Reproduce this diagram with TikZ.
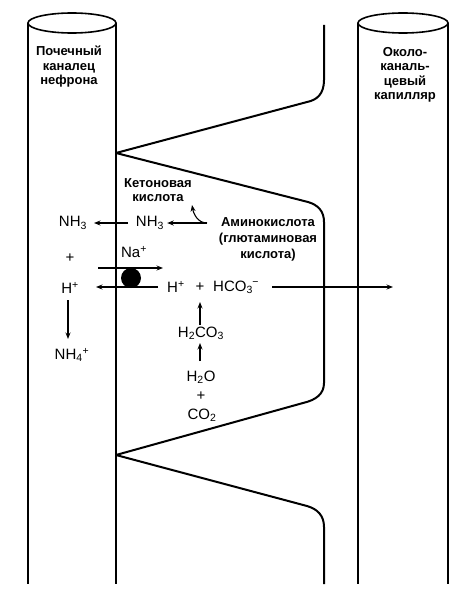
\documentclass[tikz,border=0pt]{standalone}
\usepackage{fontspec}
\setmainfont{Liberation Sans}
\usetikzlibrary{arrows.meta}
\begin{document}
\begin{tikzpicture}[x=1pt,y=-1pt,
  wall/.style={line width=2pt},
  rim/.style={line width=1.6pt},
  arr/.style={line width=1.1pt,-{Stealth[length=6.5pt,width=5pt]}},
  lbl/.style={font=\bfseries\fontsize{13}{14.5}\selectfont, inner sep=0pt, align=center},
  chem/.style={font=\fontsize{15}{17}\selectfont, inner sep=0pt, align=center},
  pumpdot/.style={circle, fill=black, inner sep=0pt, minimum size=20pt}]
\useasboundingbox (0,0) rectangle (464,594);
% cylinders
\draw[rim] (72,23) ellipse [x radius=44, y radius=10];
\draw[wall] (28,23) -- (28,584);
\draw[wall] (116,23) -- (116,584);
\draw[rim] (403,23) ellipse [x radius=45, y radius=10];
\draw[wall] (358,23) -- (358,584);
\draw[wall] (448,23) -- (448,584);
% cell boundary
\draw[wall, line join=round]
  (324,25) -- (324,80) .. controls (324,94) and (317,100) .. (307,102) -- (116,153)
  -- (308,202) .. controls (318,205) and (324,211) .. (324,222) -- (324,383)
  .. controls (324,394) and (316,400) .. (303,403) -- (116,455)
  -- (307,506) .. controls (317,509) and (324,515) .. (324,527) -- (324,584);
% labels
\node[lbl] (tubule) at (69,67) {Почечный\\каналец\\нефрона};
\node[lbl] (capil) at (405,75) {Около-\\каналь-\\цевый\\капилляр};
\node[lbl] (keto) at (158,190) {Кетоновая\\кислота};
\node[lbl, font=\bfseries\fontsize{13}{16}\selectfont] (amino) at (268,239) {Аминокислота\\(глютаминовая\\кислота)};
\node[chem] (nh3L) at (73,223) {NH\textsubscript{3}};
\node[chem] (nh3M) at (150,223) {NH\textsubscript{3}};
\node[chem] (plusL) at (70,258) {+};
\node[chem] (hL) at (70,288) {H\textsuperscript{+}};
\node[chem] (nh4) at (72,355) {NH\textsubscript{4}\textsuperscript{+}};
\node[chem] (na) at (134,252) {Na\textsuperscript{+}};
\node[pumpdot] (pump) at (131,278) {};
\node[chem, anchor=west] (hM) at (167,287) {H\textsuperscript{+}};
\node[chem] (plusM) at (200,287) {+};
\node[chem, anchor=west] (hco3) at (213,287) {HCO\textsubscript{3}\kern-0.5pt\textsuperscript{−}};
\node[chem] (h2co3) at (201,333) {H\textsubscript{2}CO\textsubscript{3}};
\node[chem] (h2o) at (201,377) {H\textsubscript{2}O};
\node[chem] (plusB) at (201,396) {+};
\node[chem] (co2) at (202,415) {CO\textsubscript{2}};
% arrow end points
\coordinate (aminoTail) at (207,223);
\coordinate (ketoTip) at (192,205);
\coordinate (naTail) at (98,268);
\coordinate (naTip) at (163,268);
\coordinate (hTail) at (158,287);
\coordinate (hTip) at (96,287);
\coordinate (nh3Tail) at (128,223);
\coordinate (nh3Tip) at (94,223);
\coordinate (bicTail) at (272,287);
\coordinate (bicTip) at (393,287);
\coordinate (upA) at (200,325);
\coordinate (upAtip) at (200,302);
\coordinate (upB) at (200,361);
\coordinate (upBtip) at (200,343);
\coordinate (dnA) at (68,300);
\coordinate (dnAtip) at (68,339);
% arrows
\draw[arr] (aminoTail) -- ([xshift=3pt]nh3M.east);
\draw[arr] (aminoTail) to[out=180,in=-80] (ketoTip);
\draw[arr] (nh3Tail) -- (nh3Tip);
\draw[arr] (naTail) -- (naTip);
\draw[arr] (hTail) -- (hTip);
\draw[arr] (bicTail) -- (bicTip);
\draw[arr] (upA) -- (upAtip);
\draw[arr] (upB) -- (upBtip);
\draw[arr] (dnA) -- (dnAtip);
\end{tikzpicture}
\end{document}
